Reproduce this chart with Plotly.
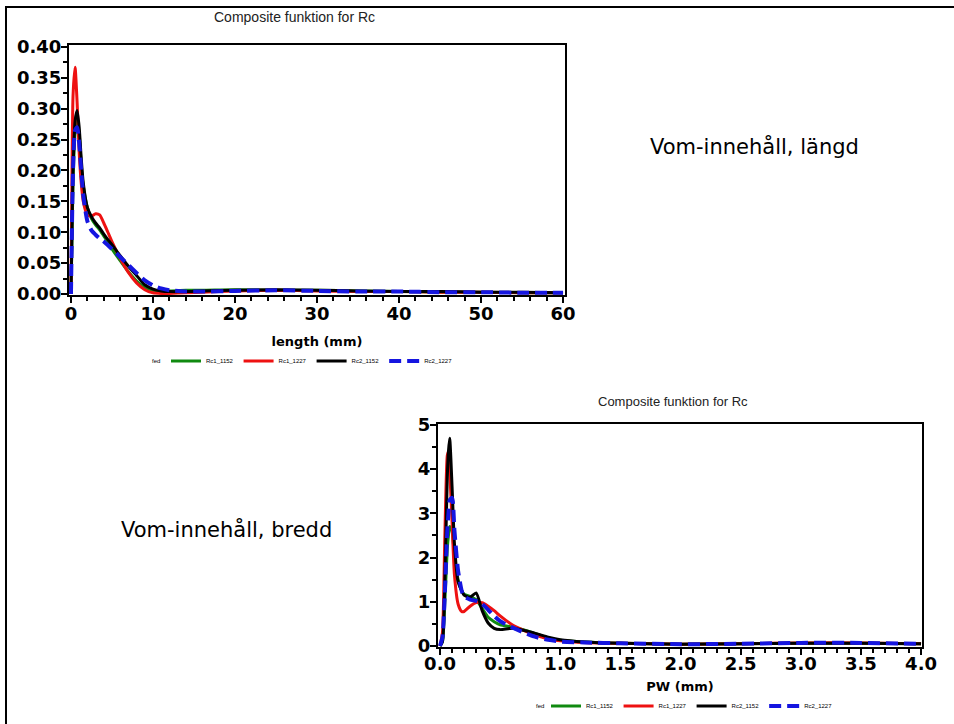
import plotly.graph_objects as go

# ---------------- data: length chart (top) ----------------
len_x = [0, 0.1, 0.25, 0.5, 0.75, 1.0, 1.25, 1.5, 2, 2.5, 3, 3.5, 4, 4.5, 5, 6, 7, 8, 9, 10,
         11, 12, 14, 16, 20, 25, 30, 35, 40, 45, 50, 55, 60]
len_rc1_1152 = [0, 0.07, 0.18, 0.26, 0.28, 0.26, 0.21, 0.175, 0.14, 0.122, 0.112, 0.104, 0.094,
                0.084, 0.073, 0.054, 0.036, 0.021, 0.011, 0.006, 0.005, 0.005, 0.006, 0.006,
                0.007, 0.006, 0.006, 0.005, 0.004, 0.003, 0.003, 0.002, 0.002]
len_rc1_1227 = [0, 0.15, 0.32, 0.367, 0.31, 0.23, 0.18, 0.15, 0.128, 0.126, 0.13, 0.128, 0.115,
                0.1, 0.085, 0.058, 0.035, 0.018, 0.007, 0.002, 0.001, 0.001, 0.002, 0.003,
                0.005, 0.006, 0.005, 0.004, 0.004, 0.003, 0.003, 0.002, 0.002]
len_rc2_1152 = [0, 0.08, 0.2, 0.28, 0.297, 0.27, 0.22, 0.18, 0.14, 0.125, 0.115, 0.107, 0.097,
                0.088, 0.08, 0.062, 0.045, 0.03, 0.015, 0.008, 0.005, 0.004, 0.004, 0.005,
                0.006, 0.007, 0.006, 0.005, 0.004, 0.004, 0.003, 0.003, 0.002]
len_rc2_1227 = [0, 0.09, 0.2, 0.265, 0.27, 0.245, 0.2, 0.16, 0.118, 0.103, 0.096, 0.09, 0.085,
                0.079, 0.073, 0.06, 0.047, 0.034, 0.022, 0.014, 0.009, 0.006, 0.004, 0.004,
                0.005, 0.006, 0.005, 0.004, 0.004, 0.003, 0.003, 0.002, 0.002]

# ---------------- data: width chart (bottom) ----------------
pw_x = [0, 0.02, 0.04, 0.06, 0.07, 0.08, 0.1, 0.12, 0.15, 0.18, 0.2, 0.25, 0.3, 0.35, 0.4, 0.45,
        0.5, 0.6, 0.7, 0.8, 0.9, 1.0, 1.2, 1.5, 2.0, 2.5, 3.0, 3.5, 4.0]
pw_rc1_1152 = [0, 0.1, 1.0, 2.2, 2.5, 2.7, 2.6, 2.0, 1.5, 1.25, 1.17, 1.12, 1.05, 0.85, 0.65, 0.55,
               0.48, 0.43, 0.36, 0.27, 0.18, 0.13, 0.09, 0.06, 0.04, 0.05, 0.06, 0.06, 0.05]
pw_rc1_1227 = [0, 0.3, 2.5, 4.3, 4.4, 4.0, 2.8, 1.6, 0.95, 0.78, 0.78, 0.9, 0.98, 0.98, 0.9, 0.8,
               0.68, 0.48, 0.35, 0.24, 0.16, 0.12, 0.08, 0.06, 0.04, 0.05, 0.07, 0.07, 0.05]
pw_rc2_1152 = [0, 0.1, 1.5, 3.8, 4.4, 4.7, 3.6, 2.3, 1.45, 1.25, 1.15, 1.1, 1.2, 0.8, 0.52, 0.4,
               0.37, 0.4, 0.35, 0.28, 0.2, 0.14, 0.09, 0.06, 0.04, 0.05, 0.06, 0.06, 0.05]
pw_rc2_1227 = [0, 0.2, 1.2, 2.6, 3.0, 3.3, 3.35, 2.6, 1.7, 1.25, 1.12, 1.05, 1.02, 0.95, 0.82, 0.68,
               0.56, 0.42, 0.3, 0.2, 0.14, 0.1, 0.08, 0.06, 0.04, 0.05, 0.07, 0.07, 0.05]

series_names = ["Rc1_1152", "Rc1_1227", "Rc2_1152", "Rc2_1227"]
series_colors = ["#108a10", "#ee1111", "#000000", "#1515e0"]

len_series = [len_rc1_1152, len_rc1_1227, len_rc2_1152, len_rc2_1227]
pw_series = [pw_rc1_1152, pw_rc1_1227, pw_rc2_1152, pw_rc2_1227]

W, H = 954, 724
def px(x):
    return x / W
def py(y):
    return 1 - y / H

fig = go.Figure()

for i, (name, col) in enumerate(zip(series_names, series_colors)):
    dashed = (i == 3)
    line = dict(color=col, width=4 if dashed else 3, shape="spline", smoothing=0.6,
                dash="12px,6px" if dashed else "solid")
    fig.add_trace(go.Scatter(x=len_x, y=len_series[i], mode="lines", name=name, line=line,
                             xaxis="x", yaxis="y", legend="legend"))
for i, (name, col) in enumerate(zip(series_names, series_colors)):
    dashed = (i == 3)
    line = dict(color=col, width=4 if dashed else 3, shape="spline", smoothing=0.6,
                dash="12px,6px" if dashed else "solid")
    fig.add_trace(go.Scatter(x=pw_x, y=pw_series[i], mode="lines", name=name, line=line,
                             xaxis="x2", yaxis="y2", legend="legend2"))

tick_font = dict(family="DejaVu Sans", size=18, color="black", weight="bold")
title_font = dict(family="DejaVu Sans", size=13, color="black", weight="bold")
sans = "Liberation Sans, Arial"
legend_font = dict(family=sans, size=6, color="black")

common = dict(showline=True, linewidth=2, linecolor="black", mirror=True, ticks="outside",
              ticklen=6, tickwidth=2, tickcolor="black", showgrid=False, zeroline=False,
              tickfont=tick_font, automargin=False)
minor_style = dict(ticks="outside", ticklen=4, tickwidth=1.5, tickcolor="black")

fig.update_layout(
    width=W, height=H,
    margin=dict(l=0, r=0, t=0, b=0, pad=0, autoexpand=False),
    paper_bgcolor="white", plot_bgcolor="white",
    xaxis=dict(domain=[px(69), px(565)], range=[-0.24, 60.24], dtick=10, anchor="y",
               minor=dict(dtick=2, **minor_style), ticklabelstandoff=-5,
               title=dict(text="length (mm)", font=title_font, standoff=14), **common),
    yaxis=dict(domain=[py(295), py(45)], range=[-0.0016, 0.4032], dtick=0.05, tickformat=".2f",
               anchor="x", minor=dict(dtick=0.025, **minor_style), ticklabelstandoff=-4,
               **common),
    xaxis2=dict(domain=[px(438), px(922)], range=[-0.017, 4.008], dtick=0.5, tickformat=".1f",
                anchor="y2", minor=dict(dtick=0.1, **minor_style), ticklabelstandoff=-7,
                title=dict(text="PW (mm)", font=title_font, standoff=9), **common),
    yaxis2=dict(domain=[py(647), py(424)], range=[-0.023, 5.02], dtick=1, anchor="x2",
                minor=dict(dtick=0.5, **minor_style), ticklabelstandoff=-4, **common),
    legend=dict(orientation="h", x=px(312), y=py(361), xanchor="center", yanchor="middle",
                font=legend_font, bgcolor="rgba(0,0,0,0)", itemwidth=30, tracegroupgap=0),
    legend2=dict(orientation="h", x=px(692), y=py(706), xanchor="center", yanchor="middle",
                 font=legend_font, bgcolor="rgba(0,0,0,0)", itemwidth=30, tracegroupgap=0),
    showlegend=True,
)

annotations = [
    dict(text="Composite funktion for Rc", x=px(294), y=py(17),
         font=dict(family=sans, size=14, color="#222222")),
    dict(text="Composite funktion for Rc", x=px(673), y=py(401),
         font=dict(family=sans, size=13, color="#222222")),
    dict(text="fed", x=px(156), y=py(361), font=legend_font),
    dict(text="fed", x=px(540), y=py(706), font=legend_font),
    dict(text="Vom-innehåll, längd", x=px(754), y=py(147),
         font=dict(family="DejaVu Sans", size=21, color="black")),
    dict(text="Vom-innehåll, bredd", x=px(226), y=py(529),
         font=dict(family="DejaVu Sans", size=21, color="black")),
]
for a in annotations:
    fig.add_annotation(xref="paper", yref="paper", showarrow=False, xanchor="center",
                       yanchor="middle", **a)

# outer frame of the page (top and left edges visible)
fig.add_shape(type="rect", xref="paper", yref="paper", x0=px(6), y0=py(7), x1=1.02, y1=-0.02,
              line=dict(color="black", width=2), layer="below")

fig.write_html(
    "out.html",
    config={"displayModeBar": False},
    post_script=("document.body.style.margin='0px';"
                 "document.body.style.overflow='hidden';"
                 "document.documentElement.style.overflow='hidden';"),
)
